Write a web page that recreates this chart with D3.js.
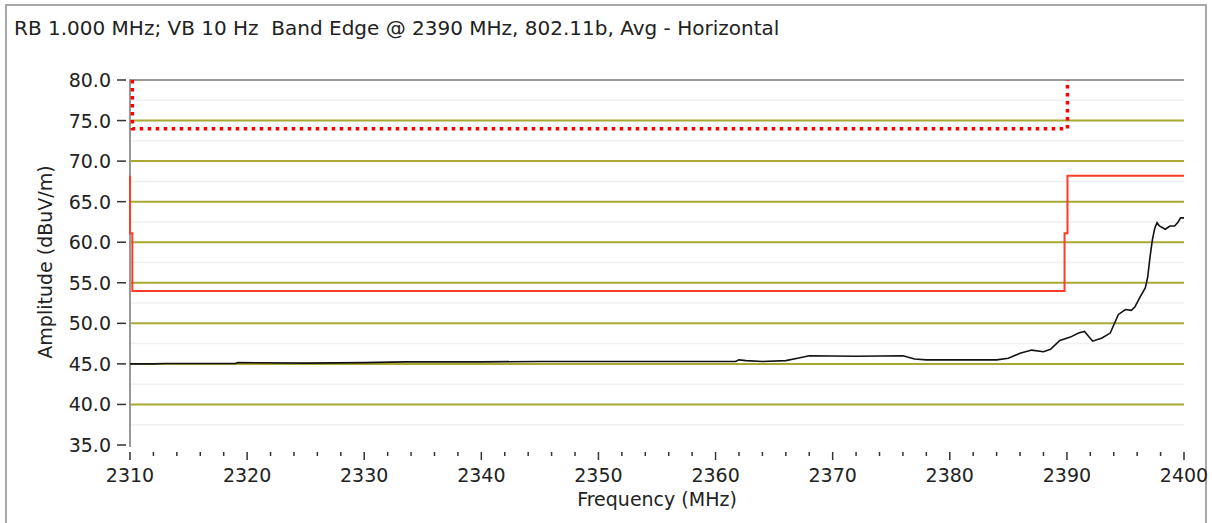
<!DOCTYPE html>
<html>
<head>
<meta charset="utf-8">
<script src="https://cdn.jsdelivr.net/npm/d3@7"></script>
<style>
  body { margin: 0; background: #fff; }
  text { font-family: "DejaVu Sans", sans-serif; fill: #222; }
</style>
</head>
<body>
<script>
const width = 1212;
const height = 523;

// trace readings (MHz / dBuV/m)
const traceFreq = [2310, 2312, 2313, 2319, 2319.2, 2325, 2330, 2333.5, 2340, 2345, 2355, 2361.7,
  2362, 2362.6, 2364, 2366, 2367, 2368, 2372, 2376, 2377, 2378, 2384, 2385, 2386, 2387, 2388,
  2388.6, 2389.4, 2390.3, 2391, 2391.5, 2392.2, 2393, 2393.7, 2394, 2394.4, 2395, 2395.5,
  2395.8, 2396.2, 2396.7, 2396.9, 2397.1, 2397.3, 2397.5, 2397.7, 2397.9, 2398.4, 2398.8,
  2399.2, 2399.5, 2399.7, 2400];
const traceAmp = [45.0, 45.0, 45.05, 45.05, 45.15, 45.1, 45.15, 45.25, 45.25, 45.3, 45.3, 45.3,
  45.5, 45.4, 45.3, 45.4, 45.7, 46.0, 45.95, 46.0, 45.6, 45.5, 45.5, 45.7, 46.3, 46.7, 46.5,
  46.8, 47.9, 48.3, 48.8, 49.0, 47.8, 48.2, 48.8, 49.8, 51.1, 51.7, 51.6,
  52.0, 53.1, 54.4, 55.7, 58.2, 60.3, 61.7, 62.4, 62.0, 61.6, 62.0,
  62.0, 62.5, 63.0, 63.0];

// average limit (solid) and peak limit (dotted)
const avgLimitFreq = [2310, 2310, 2310.2, 2310.2, 2389.8, 2389.8, 2390.05, 2390.05, 2400];
const avgLimitAmp = [68.2, 61.1, 61.1, 54, 54, 61.1, 61.1, 68.2, 68.2];
const pkLimitFreq = [2310.2, 2310.2, 2390.05, 2390.05];
const pkLimitAmp = [80, 74, 74, 80];

const yMajor = [35, 40, 45, 50, 55, 60, 65, 70, 75, 80];
const yMinor = [37.5, 42.5, 47.5, 52.5, 57.5, 62.5, 67.5, 72.5, 77.5];
const xMajor = [2310, 2320, 2330, 2340, 2350, 2360, 2370, 2380, 2390, 2400];

const titleText = "RB 1.000 MHz; VB 10 Hz  Band Edge @ 2390 MHz, 802.11b, Avg - Horizontal";

const svg = d3.select("body").append("svg")
  .attr("width", width)
  .attr("height", height);

const x = d3.scaleLinear().domain([2310, 2400]).range([130, 1184]);
const y = d3.scaleLinear().domain([35, 80]).range([445, 80]);

// outer frame
svg.append("path")
  .attr("d", `M6,${height} V5 H1206 V${height}`)
  .attr("fill", "none")
  .attr("stroke", "#a8a8a8")
  .attr("stroke-width", 2);

svg.append("text")
  .attr("x", 14).attr("y", 35)
  .attr("font-size", 20)
  .style("white-space", "pre")
  .text(titleText);

// minor grid
svg.selectAll(".minor").data(yMinor).join("line")
  .attr("x1", x(2310)).attr("x2", x(2400))
  .attr("y1", d => y(d)).attr("y2", d => y(d))
  .attr("stroke", "#f0f0f0").attr("stroke-width", 1.5);

// major grid
svg.selectAll(".major").data(yMajor.filter(d => d > 35 && d < 80)).join("line")
  .attr("x1", x(2310)).attr("x2", x(2400))
  .attr("y1", d => y(d)).attr("y2", d => y(d))
  .attr("stroke", "#a9a830").attr("stroke-width", 2);

// top border + left axis
svg.append("path")
  .attr("d", `M${x(2400)},${y(80)} H${x(2310)} V${y(35) + 2}`)
  .attr("fill", "none").attr("stroke", "#999").attr("stroke-width", 2);

// y ticks + labels
const yAxis = svg.append("g");
yAxis.selectAll("line").data(yMajor).join("line")
  .attr("x1", 117).attr("x2", 126)
  .attr("y1", d => y(d)).attr("y2", d => y(d))
  .attr("stroke", "#333").attr("stroke-width", 1.5);
yAxis.selectAll("text").data(yMajor).join("text")
  .attr("x", 111).attr("y", d => y(d) + 7)
  .attr("text-anchor", "end")
  .attr("font-size", 19)
  .text(d => d.toFixed(1));

// x ticks: major every 10, minor every 2
const xTicks = d3.range(2310, 2401, 2);
svg.append("g").selectAll("line").data(xTicks).join("line")
  .attr("x1", d => x(d)).attr("x2", d => x(d))
  .attr("y1", 452).attr("y2", d => (d % 10 === 0 ? 460 : 456))
  .attr("stroke", "#333").attr("stroke-width", 1.5);
svg.append("g").selectAll("text").data(xMajor).join("text")
  .attr("x", d => x(d)).attr("y", 482)
  .attr("text-anchor", "middle")
  .attr("font-size", 19)
  .text(d => d);

svg.append("text")
  .attr("x", 657).attr("y", 506)
  .attr("text-anchor", "middle")
  .attr("font-size", 19)
  .text("Frequency (MHz)");

svg.append("text")
  .attr("transform", "translate(52,262) rotate(-90)")
  .attr("text-anchor", "middle")
  .attr("font-size", 19)
  .text("Amplitude (dBuV/m)");

const line = d3.line().x(d => x(d[0])).y(d => y(d[1]));

svg.append("path")
  .datum(pkLimitFreq.map((f, i) => [f, pkLimitAmp[i]]))
  .attr("d", line)
  .attr("fill", "none")
  .attr("stroke", "#ff0000")
  .attr("stroke-width", 3.5)
  .attr("stroke-dasharray", "3.5 4.5");

svg.append("path")
  .datum(avgLimitFreq.map((f, i) => [f, avgLimitAmp[i]]))
  .attr("d", line)
  .attr("fill", "none")
  .attr("stroke", "#ff3b2a")
  .attr("stroke-width", 2);

svg.append("path")
  .datum(traceFreq.map((f, i) => [f, traceAmp[i]]))
  .attr("d", line)
  .attr("fill", "none")
  .attr("stroke", "#111")
  .attr("stroke-width", 1.6);
</script>
</body>
</html>
